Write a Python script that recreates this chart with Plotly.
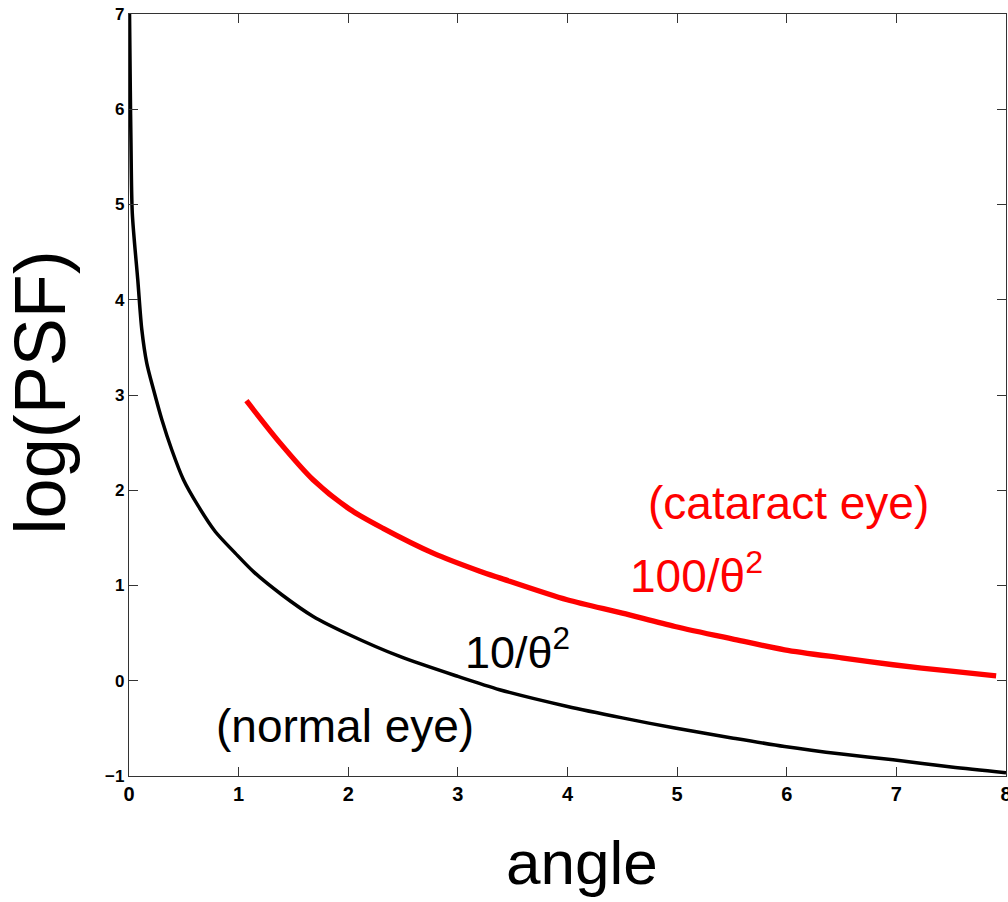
import plotly.graph_objects as go

# Normal eye curve (black)
black_x = [0.003, 0.012, 0.018, 0.03, 0.08, 0.117, 0.162, 0.224, 0.30, 0.39, 0.497,
           0.634, 0.786, 0.969, 1.14, 1.394, 1.68, 2.01, 2.47, 3.0, 3.38,
           4.0, 4.5, 4.98, 5.5, 5.98, 6.5, 6.97, 7.5, 8.0]
black_y = [7.2, 6.2, 5.65, 4.91, 4.21, 3.685, 3.335, 3.055, 2.74, 2.425, 2.11,
           1.83, 1.567, 1.34, 1.14, 0.903, 0.675, 0.483, 0.255, 0.045, -0.094,
           -0.27, -0.39, -0.497, -0.60, -0.69, -0.77, -0.83, -0.905, -0.965]

# Cataract eye curve (red)
red_x = [1.071, 1.375, 1.679, 2.014, 2.318, 2.774, 3.2, 3.38, 3.996, 4.5, 4.98,
         5.5, 5.98, 6.5, 6.97, 7.5, 7.91]
red_y = [2.94, 2.50, 2.11, 1.80, 1.60, 1.34, 1.15, 1.08, 0.85, 0.71, 0.57,
         0.44, 0.325, 0.24, 0.168, 0.10, 0.052]

x_ticks = [0, 1, 2, 3, 4, 5, 6, 7, 8]
y_ticks = [-1, 0, 1, 2, 3, 4, 5, 6, 7]

FONT = "Liberation Sans, Arial, Helvetica, sans-serif"

fig = go.Figure()
fig.add_trace(go.Scatter(x=black_x, y=black_y, mode="lines",
                         line=dict(color="black", width=3.5, shape="spline", smoothing=0.8),
                         showlegend=False))
fig.add_trace(go.Scatter(x=red_x, y=red_y, mode="lines",
                         line=dict(color="#ff0000", width=5.3, shape="spline", smoothing=0.8),
                         showlegend=False))

axis_common = dict(
    showline=True, linecolor="#333333", linewidth=1.2, mirror="ticks",
    ticks="inside", ticklen=9, tickwidth=1.2, tickcolor="#333333",
    showgrid=False, zeroline=False, automargin=False,
)

fig.update_layout(
    width=1008, height=902,
    margin=dict(l=129, r=2, t=14, b=126, autoexpand=False),
    paper_bgcolor="white", plot_bgcolor="white",
    xaxis=dict(range=[0, 8], tickvals=x_ticks, **axis_common,
               ticklabeloverflow="allow",
               tickfont=dict(family=FONT, size=20, color="black", weight="bold")),
    yaxis=dict(range=[-1, 7], tickvals=y_ticks, **axis_common,
               tickfont=dict(family=FONT, size=17, color="black", weight="bold")),
    annotations=[
        dict(xref="paper", yref="paper", x=0.517, y=-0.113, text="angle",
             showarrow=False, xanchor="center", yanchor="middle",
             font=dict(family=FONT, size=62, color="black")),
        dict(xref="paper", yref="paper", x=-0.101, y=0.504, text="log(PSF)",
             showarrow=False, textangle=-90, xanchor="center", yanchor="middle",
             font=dict(family=FONT, size=72, color="black")),
        dict(x=6.02, y=1.87, text="(cataract eye)", showarrow=False,
             font=dict(family=FONT, size=46, color="#ff0000")),
        dict(x=5.18, y=1.13, text="100/θ<sup>2</sup>", showarrow=False,
             font=dict(family=FONT, size=46, color="#ff0000")),
        dict(x=3.54, y=0.33, text="10/θ<sup>2</sup>", showarrow=False,
             font=dict(family=FONT, size=45, color="black")),
        dict(x=1.97, y=-0.48, text="(normal eye)", showarrow=False,
             font=dict(family=FONT, size=46, color="black")),
    ],
)

fig.write_html("out.html")
